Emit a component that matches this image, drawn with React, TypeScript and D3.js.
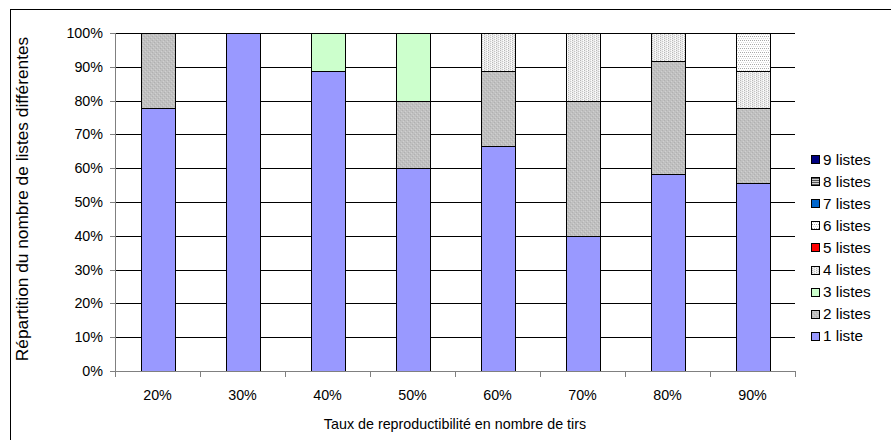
import React from "react";
import * as d3 from "d3";

const categories = ["20%", "30%", "40%", "50%", "60%", "70%", "80%", "90%"];
const seriesNames = ["1 liste", "2 listes", "3 listes", "4 listes", "5 listes", "6 listes", "7 listes", "8 listes", "9 listes"];
const s1 = [77.8, 100, 88.9, 60, 66.7, 40, 58.3, 55.6];
const s2 = [22.2, 0, 0, 20, 22.2, 40, 33.3, 22.2];
const s3 = [0, 0, 11.1, 20, 0, 0, 0, 0];
const s4 = [0, 0, 0, 0, 11.1, 20, 8.4, 11.1];
const s5 = [0, 0, 0, 0, 0, 0, 0, 0];
const s6 = [0, 0, 0, 0, 0, 0, 0, 11.1];
const s7 = [0, 0, 0, 0, 0, 0, 0, 0];
const s8 = [0, 0, 0, 0, 0, 0, 0, 0];
const s9 = [0, 0, 0, 0, 0, 0, 0, 0];
const seriesValues = [s1, s2, s3, s4, s5, s6, s7, s8, s9];
const yTicks = [0, 10, 20, 30, 40, 50, 60, 70, 80, 90, 100];

const fills = [
  "#9999FF",
  "url(#p2)",
  "#CCFFCC",
  "url(#p4)",
  "#FF0000",
  "url(#p6)",
  "#0066CC",
  "url(#p8)",
  "#000080",
];

export default function App() {
  const W = 891, H = 440;
  const left = 115, right = 795, top = 33, bottom = 371;
  const x = d3.scaleBand().domain(categories).range([left, right]).paddingInner(0.6).paddingOuter(0.3);
  const xb = d3.scaleBand().domain(categories).range([left, right]);
  const y = d3.scaleLinear().domain([0, 100]).range([bottom, top]);
  const rows = categories.map((c, i) => {
    const r: any = { cat: c };
    seriesNames.forEach((n, k) => (r[n] = seriesValues[k][i]));
    return r;
  });
  const stacked = d3.stack().keys(seriesNames)(rows);
  const font = "'Liberation Sans', Arial, sans-serif";
  const legendY0 = 159, legendStep = 22.1;
  const fs = 14.3;
  return (
    <svg width={W} height={H} style={{ position: "absolute", left: 0, top: 0 }} fontFamily={font}>
      <defs>
        <pattern id="p2" width="4" height="4" patternUnits="userSpaceOnUse">
          <rect width="4" height="4" fill="#C0C0C0" />
          <rect x="0" y="0" width="1" height="1" fill="#b0b0b0" />
          <rect x="2" y="2" width="1" height="1" fill="#b0b0b0" />
          <rect x="1" y="3" width="1" height="1" fill="#d0d0d0" />
          <rect x="3" y="1" width="1" height="1" fill="#d0d0d0" />
        </pattern>
        <pattern id="p4" width="4" height="2" patternUnits="userSpaceOnUse">
          <rect width="4" height="2" fill="#ececec" />
          <rect x="0" y="0" width="1" height="1" fill="#b8b8b8" />
          <rect x="2" y="1" width="1" height="1" fill="#c8c8c8" />
          <rect x="3" y="0" width="1" height="1" fill="#ffffff" />
        </pattern>
        <pattern id="p6" width="4" height="4" patternUnits="userSpaceOnUse">
          <rect width="4" height="4" fill="#ffffff" />
          <rect x="0" y="0" width="1" height="1" fill="#a8a8a8" />
          <rect x="2" y="0" width="1" height="1" fill="#a8a8a8" />
          <rect x="1" y="2" width="1" height="1" fill="#d8d8d8" />
          <rect x="3" y="2" width="1" height="1" fill="#d8d8d8" />
        </pattern>
        <pattern id="p8" width="4" height="2" patternUnits="userSpaceOnUse">
          <rect width="4" height="2" fill="#cfcfcf" />
          <rect x="0" y="0" width="4" height="1" fill="#555555" />
        </pattern>
      </defs>
      <rect x={10.5} y={9.5} width={W + 20} height={H + 20} fill="#ffffff" stroke="#000000" strokeWidth={1} />
      {yTicks.filter((t) => t > 0).map((t) => (
        <line key={"g" + t} x1={left} x2={right} y1={Math.round(y(t)) + 0.5} y2={Math.round(y(t)) + 0.5} stroke="#000000" strokeWidth={1} />
      ))}
      {stacked.map((layer, k) => (
        <g key={"s" + k}>
          {layer.map((d, i) => {
            const h = y(d[0]) - y(d[1]);
            if (h <= 0.01) return null;
            return (
              <rect
                key={i}
                x={Math.round(x(categories[i])!) + 0.5}
                y={Math.round(y(d[1])) + 0.5}
                width={Math.round(x.bandwidth())}
                height={Math.round(y(d[0])) - Math.round(y(d[1]))}
                fill={fills[k]}
                stroke="#000000"
                strokeWidth={1}
              />
            );
          })}
        </g>
      ))}
      <line x1={left + 0.5} x2={left + 0.5} y1={top} y2={bottom} stroke="#808080" strokeWidth={1} />
      <line x1={left} x2={right} y1={bottom + 0.5} y2={bottom + 0.5} stroke="#808080" strokeWidth={1} />
      {yTicks.map((t) => (
        <g key={"yt" + t}>
          <line x1={left - 5} x2={left} y1={Math.round(y(t)) + 0.5} y2={Math.round(y(t)) + 0.5} stroke="#808080" />
          <text x={left - 12} y={y(t) + 5} fontSize={fs} textAnchor="end" fill="#000">
            {t + "%"}
          </text>
        </g>
      ))}
      {categories.map((c, i) => (
        <g key={"xt" + c}>
          <line x1={Math.round(xb(c)! + xb.bandwidth()) + 0.5} x2={Math.round(xb(c)! + xb.bandwidth()) + 0.5} y1={bottom} y2={bottom + 6} stroke="#808080" />
          <text x={xb(c)! + xb.bandwidth() / 2} y={400} fontSize={fs} textAnchor="middle" fill="#000">
            {c}
          </text>
        </g>
      ))}
      <line x1={left + 0.5} x2={left + 0.5} y1={bottom} y2={bottom + 6} stroke="#808080" />
      <text x={(left + right) / 2} y={429} fontSize={fs} textAnchor="middle" fill="#000">
        Taux de reproductibilité en nombre de tirs
      </text>
      <text transform={`translate(28, ${(top + bottom) / 2 - 3}) rotate(-90)`} fontSize={17.3} textAnchor="middle" fill="#000">
        Répartition du nombre de listes différentes
      </text>
      {seriesNames.slice().reverse().map((n, j) => {
        const k = seriesNames.length - 1 - j;
        const cy = legendY0 + j * legendStep;
        return (
          <g key={"l" + n}>
            <rect x={811.5} y={Math.round(cy - 4) + 0.5} width={8} height={8} fill={fills[k]} stroke="#000" strokeWidth={1} />
            <text x={823} y={cy + 5.5} fontSize={15.3} fill="#000">
              {n}
            </text>
          </g>
        );
      })}
    </svg>
  );
}
